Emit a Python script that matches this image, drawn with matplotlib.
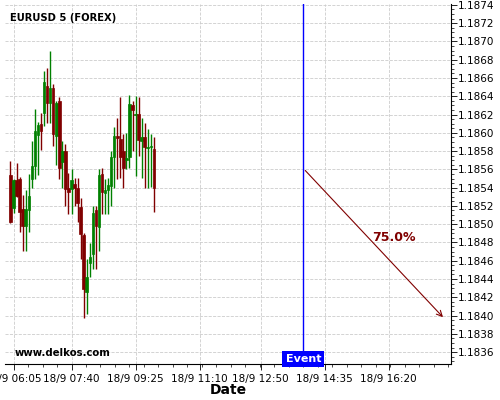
import matplotlib
matplotlib.use("Agg")
import matplotlib.pyplot as plt
import matplotlib.dates as mdates
import matplotlib.transforms as mtransforms
from matplotlib.ticker import MultipleLocator, AutoMinorLocator, FixedLocator, FixedFormatter
import pandas as pd

# 5 minute candles, 18/9 06:00 .. 09:55
opens = [1.18554, 1.18518, 1.18548, 1.18550, 1.18517, 1.18498, 1.18516, 1.18550,
         1.18564, 1.18598, 1.18610, 1.18622, 1.18651, 1.18633, 1.18649, 1.18597,
         1.18635, 1.18568, 1.18580, 1.18540, 1.18539, 1.18544, 1.18540, 1.18519,
         1.18488, 1.18426, 1.18457, 1.18467, 1.18515, 1.18497, 1.18555, 1.18534,
         1.18537, 1.18542, 1.18574, 1.18596, 1.18593, 1.18580, 1.18570, 1.18574,
         1.18630, 1.18619, 1.18621, 1.18591, 1.18595, 1.18583, 1.18584, 1.18582]
highs = [1.18569, 1.18549, 1.18567, 1.18552, 1.18532, 1.18537, 1.18555, 1.18591,
         1.18626, 1.18612, 1.18622, 1.18668, 1.18671, 1.18690, 1.18653, 1.18635,
         1.18639, 1.18591, 1.18588, 1.18556, 1.18560, 1.18551, 1.18551, 1.18529,
         1.18490, 1.18462, 1.18479, 1.18520, 1.18520, 1.18560, 1.18562, 1.18550,
         1.18551, 1.18580, 1.18606, 1.18616, 1.18639, 1.18599, 1.18600, 1.18641,
         1.18635, 1.18640, 1.18639, 1.18616, 1.18611, 1.18604, 1.18599, 1.18595]
lows = [1.18501, 1.18512, 1.18530, 1.18492, 1.18471, 1.18471, 1.18492, 1.18540,
        1.18550, 1.18554, 1.18581, 1.18608, 1.18611, 1.18611, 1.18586, 1.18565,
        1.18550, 1.18540, 1.18520, 1.18511, 1.18511, 1.18520, 1.18502, 1.18462,
        1.18397, 1.18402, 1.18442, 1.18451, 1.18451, 1.18471, 1.18511, 1.18511,
        1.18511, 1.18520, 1.18540, 1.18550, 1.18551, 1.18540, 1.18560, 1.18562,
        1.18580, 1.18553, 1.18575, 1.18551, 1.18540, 1.18540, 1.18541, 1.18513]
closes = [1.18502, 1.18548, 1.18531, 1.18513, 1.18498, 1.18517, 1.18531, 1.18564,
          1.18602, 1.18609, 1.18602, 1.18656, 1.18633, 1.18649, 1.18599, 1.18633,
          1.18562, 1.18580, 1.18539, 1.18535, 1.18548, 1.18540, 1.18523, 1.18489,
          1.18429, 1.18442, 1.18464, 1.18512, 1.18498, 1.18554, 1.18535, 1.18537,
          1.18543, 1.18574, 1.18596, 1.18594, 1.18574, 1.18562, 1.18573, 1.18632,
          1.18625, 1.18621, 1.18592, 1.18595, 1.18585, 1.18585, 1.18586, 1.18540]

x_tick_times = ["06:05", "07:40", "09:25", "11:10", "12:50", "14:35", "16:20"]
day = "2020-09-18"
event_time = "14:00"
arrow_start = ("14:00", 1.18561)
arrow_end = ("17:52", 1.18396)
prob_label = "75.0%"
prob_pos = ("16:28", 1.18485)

green = "#008000"
red = "#800000"

times = pd.date_range(day + " 06:00", periods=len(opens), freq="5min")
xs = mdates.date2num(times)


def t(hm):
    return mdates.date2num(pd.Timestamp(day + " " + hm))


fig = plt.figure(figsize=(5, 4), dpi=100)
ax = fig.add_axes([0.01, 0.09, 0.892, 0.90])

w = 4.2 / 1440
for x, o, h, l, c in zip(xs, opens, highs, lows, closes):
    col = green if c >= o else red
    ax.vlines(x, l, h, color=col, lw=1)
    ax.bar(x, abs(c - o), bottom=min(o, c), width=w, color=col,
           edgecolor=col, linewidth=0.5)

# event line and label
ev = t(event_time)
ax.axvline(ev, color="#0000ff", lw=1)
trans = mtransforms.blended_transform_factory(ax.transData, ax.transAxes)
ax.text(ev, 0.0, "Event", transform=trans, ha="center", va="bottom",
        color="white", fontsize=8, fontweight="bold",
        bbox=dict(facecolor="#0000ff", edgecolor="none", boxstyle="square,pad=0.3"))

# forecast arrow
ax.annotate("", xy=(t(arrow_end[0]), arrow_end[1]),
            xytext=(t(arrow_start[0]), arrow_start[1]),
            arrowprops=dict(arrowstyle="->", color=red, lw=0.8))
ax.text(t(prob_pos[0]), prob_pos[1], prob_label, color=red, fontsize=9,
        fontweight="bold", ha="center", va="center")

ax.text(0.012, 0.975, "EURUSD 5 (FOREX)", transform=ax.transAxes,
        fontsize=7.2, fontweight="bold", ha="left", va="top")
ax.text(0.022, 0.03, "www.delkos.com", transform=ax.transAxes,
        fontsize=7.3, fontweight="bold", ha="left", va="center")

ax.set_xlim(t("05:51"), t("18:02"))
ax.set_ylim(1.18347, 1.18741)

ax.xaxis.set_major_locator(FixedLocator([t(s) for s in x_tick_times]))
ax.xaxis.set_major_formatter(FixedFormatter(["18/9 " + s for s in x_tick_times]))
ax.xaxis.set_minor_locator(AutoMinorLocator(4))
ax.yaxis.set_major_locator(MultipleLocator(0.0002))
ax.yaxis.set_minor_locator(AutoMinorLocator(4))
ax.yaxis.set_major_formatter(matplotlib.ticker.FormatStrFormatter("%.4f"))
ax.yaxis.tick_right()

ax.tick_params(axis="both", which="major", labelsize=7.5, length=4, width=0.6)
ax.tick_params(axis="both", which="minor", length=2, width=0.5)
ax.tick_params(axis="y", pad=1)

ax.spines["top"].set_visible(False)
ax.spines["left"].set_visible(False)
ax.grid(True, which="major", color="#cccccc", linestyle="--", lw=0.6)
ax.set_axisbelow(True)

ax.set_xlabel("Date", fontsize=10, fontweight="bold", labelpad=-1)

fig.savefig("out.png", dpi=100)
